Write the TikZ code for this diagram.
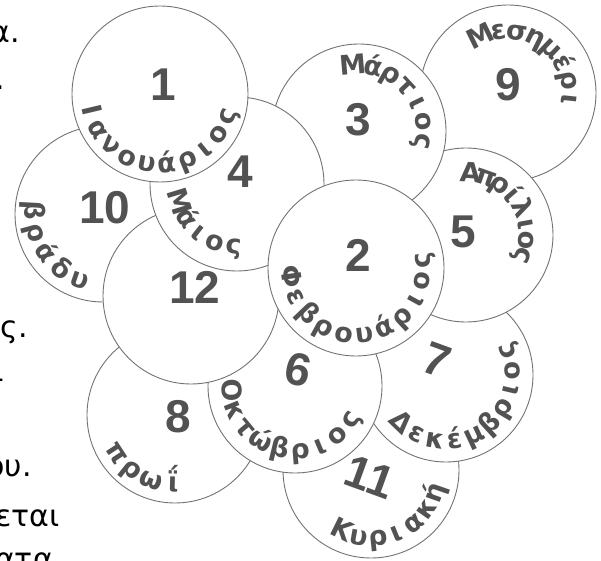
\documentclass[tikz,border=0pt]{standalone}
\usepackage{fontspec}
\setmainfont{DejaVu Sans}
\newfontfamily\numfont{Liberation Sans}
\newfontfamily\ringfont{DejaVu Sans}
\newcommand{\letterfont}{\ringfont\bfseries\fontsize{27}{27}\selectfont}
\newlength{\chw}

% letters of #5 round node #1 on radius #2, from angle #3 to angle #4
\newcommand{\ringtext}[5]{%
  \gdef\rsum{0}\gdef\rcount{1}%
  \foreach \chr [count=\k] in {#5}{%
    \settowidth{\chw}{\letterfont\chr}%
    \ifnum\k=1 \xdef\rfirst{\the\chw}\fi
    \xdef\rlast{\the\chw}%
    \pgfmathsetmacro{\tmp}{\rsum+\chw}\xdef\rsum{\tmp}\xdef\rcount{\k}}%
  \pgfmathsetmacro{\rdir}{ifthenelse(#4>#3,1,-1)}%
  \pgfmathsetmacro{\rgap}{(abs(#4-#3)*pi/180*#2-(\rsum-(\rfirst+\rlast)/2))/(\rcount-1)}%
  \gdef\rpos{0}%
  \foreach \chr [count=\k] in {#5}{%
    \settowidth{\chw}{\letterfont\chr}%
    \pgfmathsetmacro{\angl}{#3+\rdir*(\rpos+\chw/2-\rfirst/2)/#2*180/pi}%
    \pgfmathsetmacro{\tilt}{\angl+\rdir*90}%
    \node[letter,rotate=\tilt] (#1-\k) at ([shift={(\angl:#2)}]#1.center) {\chr};
    \pgfmathsetmacro{\tmp}{\rpos+\chw+\rgap}\xdef\rpos{\tmp}}}

\begin{document}
\begin{tikzpicture}[x=1pt,y=1pt,
  disc/.style={circle,draw=black!55,line width=0.9pt,fill=white,minimum size=176pt,inner sep=0pt},
  num/.style={font=\numfont\bfseries\fontsize{46}{46}\selectfont,text=black!68},
  letter/.style={font=\letterfont,text=black!68,anchor=base,inner sep=0pt},
  frag/.style={font=\fontsize{30}{30}\selectfont,anchor=base east,inner sep=0pt}]
\useasboundingbox (0,0) rectangle (601,560);

\node[frag] (fa) at (20,517) {α.};
\node[frag] (fb) at (5,470) {.};
\node[frag] (fc) at (28,223) {ς.};
\node[frag] (fd) at (5,172) {-};
\node[frag] (fe) at (32,84) {ου.};
\node[frag] (ff) at (60,34) {εται};
\node[frag] (fg) at (53,-9) {ατα};

\node[disc] (c9) at (508,467) {};
\node[num] (n9) at (508,475) {9};
\ringtext{c9}{54}{116}{-6}{Μ,ε,σ,η,μ,έ,ρ,ι}

\node[disc] (c11) at (371,90) {};
\node[num,rotate=-20] (n11) at (370,83) {11};
\ringtext{c11}{76}{243.8}{340.8}{Κ,υ,ρ,ι,α,κ,ή}

\node[disc,minimum size=174pt] (c7) at (446,185) {};
\node[num,rotate=-20] (n7) at (437,200) {7};
\ringtext{c7}{74}{226.2}{381.3}{Δ,ε,κ,έ,μ,β,ρ,ι,ο,ς}

\node[disc,minimum size=174pt] (c5) at (466,325) {};
\node[num] (n5) at (463,328) {5};
\ringtext{c5}{53}{86}{-20}{Α,π,ρ,ί,λ,ι,ο,ς}

\node[disc,minimum size=174pt] (c3) at (359,429) {};
\node[num] (n3) at (358,440) {3};
\ringtext{c3}{57}{95}{-9}{Μ,ά,ρ,τ,ι,ο,ς}

\node[disc] (c10) at (103,346) {};
\node[num] (n10) at (105,352) {10};
\ringtext{c10}{78}{177}{250.8}{β,ρ,ά,δ,υ}

\node[disc] (c8) at (175,145) {};
\node[num] (n8) at (178,143) {8};
\ringtext{c8}{77}{213.2}{268.4}{π,ρ,ω,ΐ}

\node[disc,minimum size=174pt] (c6) at (295,174) {};
\node[num,rotate=-12] (n6) at (298,190) {6};
\ringtext{c6}{73}{183.5}{329.2}{Ο,κ,τ,ώ,β,ρ,ι,ο,ς}

\node[disc] (c12) at (191,264) {};
\node[num] (n12) at (195,273) {12};

\node[disc,minimum size=174pt] (c4) at (237,376) {};
\node[num] (n4) at (240,388) {4};
\ringtext{c4}{70}{197}{266.8}{Μ,ά,ι,ο,ς}

\node[disc] (c1) at (160,466) {};
\node[num] (n1) at (163,475) {1};
\ringtext{c1}{79}{193.4}{342}{Ι,α,ν,ο,υ,ά,ρ,ι,ο,ς}

\node[disc] (c2) at (356,292) {};
\node[num] (n2) at (358,305) {2};
\ringtext{c2}{75}{187.8}{366.8}{Φ,ε,β,ρ,ο,υ,ά,ρ,ι,ο,ς}
\end{tikzpicture}
\end{document}
